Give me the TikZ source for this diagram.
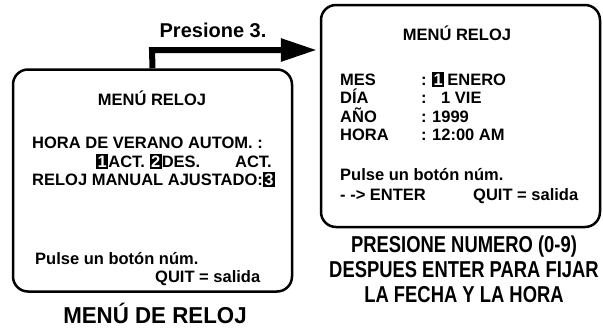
\documentclass[tikz,border=0pt]{standalone}
\usepackage{fontspec}
\setmainfont{Liberation Sans}
\newfontfamily\capfont[FakeStretch=0.8]{Liberation Sans}
\newfontfamily\widecapfont[FakeStretch=0.97]{Liberation Sans}
\usetikzlibrary{arrows.meta,positioning}

\newcommand\bodyfont{\fontsize{16.5}{19}\selectfont\bfseries}
\newcommand\numkey[1]{{\setlength{\fboxsep}{1.5pt}\colorbox{black}{\textcolor{white}{#1}}}}

\tikzset{
  screen/.style={draw=black,line width=2.5pt,rounded corners=15pt,minimum width=279pt,minimum height=222pt,inner sep=0pt},
  txt/.style={anchor=base west,inner sep=0pt,font=\bodyfont},
  caption/.style={anchor=base,inner sep=0pt,font=\capfont\bfseries\fontsize{23}{26}\selectfont},
  bigarrow/.style={line width=6pt,-{Triangle[length=36pt,width=22pt]},shorten >=3pt}
}

\begin{document}
\begin{tikzpicture}[x=1pt,y=-1pt]
\useasboundingbox (0,0) rectangle (603,327);
% screens
\node[screen](left)at(152.5,180.5){};
\node[screen](right)at(460.5,116){};
\coordinate(bend)at(152,50);
\draw[bigarrow](left.north)--(bend)--(bend -| right.west);
\node[anchor=base,inner sep=0pt,font=\bfseries\fontsize{20}{23}\selectfont](press)at(213,37){Presione 3.};
% left screen
\node[txt,anchor=base](ltitle)at(152,105){MENÚ RELOJ};
\node[txt](l1)at(32,148){HORA DE VERANO AUTOM. :};
\node[txt](l2)at(96,167){\numkey{1}ACT. \numkey{2}DES.};
\node[txt,anchor=base east](l2b)at(272,167){ACT.};
\node[txt](l3)at(32,185){RELOJ MANUAL AJUSTADO:\numkey{3}};
\node[txt](l4)at(35,264){Pulse un botón núm.};
\node[txt](l5)at(155,282){QUIT = salida};
\node[caption,font=\widecapfont\bfseries\fontsize{23}{26}\selectfont](lcap)at(155,323){MENÚ DE RELOJ};
% right screen
\node[txt,anchor=base](rtitle)at(457,40){MENÚ RELOJ};
\foreach \lab/\val [count=\i] in {MES/\numkey{1}\hspace{3pt}ENERO,DÍA/\hspace{9pt}1 VIE,AÑO/1999,HORA/12:00 AM}{
  \node[txt](rl\i)at(340,85+18.5*\i-18.5){\lab};
  \node[txt](rc\i)at(421,85+18.5*\i-18.5){:};
  \node[txt](rv\i)at(432,85+18.5*\i-18.5){\val};
}
\node[txt](r5)at(340,180){Pulse un botón núm.};
\node[txt](r6)at(340,200){- -> ENTER};
\node[txt](r7)at(473,200){QUIT = salida};
\node[caption](rcap1)at(464,252){PRESIONE NUMERO (0-9)};
\node[caption](rcap2)at(464,277){DESPUES ENTER PARA FIJAR};
\node[caption](rcap3)at(464,302){LA FECHA Y LA HORA};
\end{tikzpicture}
\end{document}
